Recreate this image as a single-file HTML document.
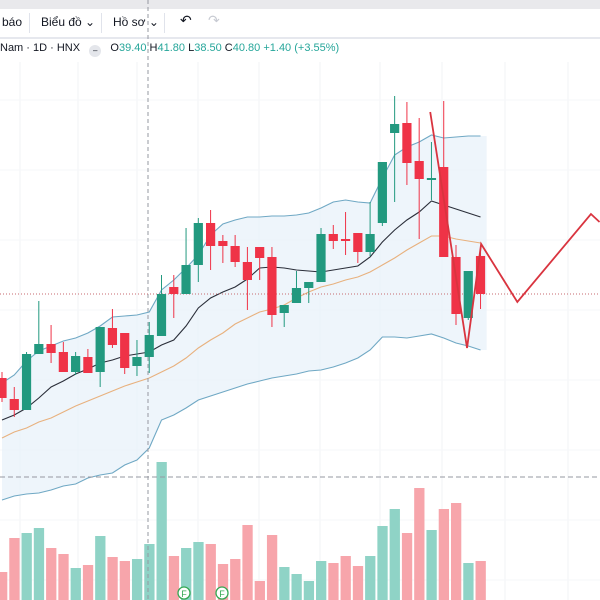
<!DOCTYPE html>
<html><head><meta charset="utf-8">
<style>
body{margin:0;width:600px;height:600px;overflow:hidden;background:#fff;font-family:"Liberation Sans","Noto Sans CJK SC",sans-serif;}
#topbar{position:absolute;left:0;top:0;width:600px;height:9px;background:#e9e9ec;}
#toolbar{position:absolute;left:0;top:9px;width:600px;height:28px;background:#fff;border-bottom:2px solid #e6e8ee;font-size:12px;color:#131722;}
#toolbar span{position:absolute;top:6px;}
.sep{position:absolute;top:4px;width:1px;height:20px;background:#e0e3eb;}
#legend{position:absolute;left:0;top:42px;font-size:11px;color:#131722;white-space:nowrap;}
#legend .g{color:#26a69a;}
svg{position:absolute;left:0;top:0;}
</style></head><body>
<div id="topbar"></div>
<div id="toolbar">
<span style="left:2px">báo</span>
<div class="sep" style="left:29px"></div>
<span style="left:41px">Biểu đồ ⌄</span>
<div class="sep" style="left:101px"></div>
<span style="left:113px">Hồ sơ ⌄</span>
<div class="sep" style="left:164px"></div>
<span style="left:180px;font-size:14px;top:3px">↶</span>
<span style="left:208px;font-size:14px;top:3px;color:#c8cbd3">↷</span>
</div>
<svg id="chart" width="600" height="600"></svg>
<div id="legend">Nam · 1D · HNX &nbsp;&nbsp;<span style="display:inline-block;width:12px;height:12px;border-radius:6px;background:#e4e6eb;vertical-align:-2px;font-size:8px;text-align:center;line-height:12px">–</span>&nbsp;&nbsp; O<span class="g">39.40</span> H<span class="g">41.80</span> L<span class="g">38.50</span> C<span class="g">40.80</span> <span class="g">+1.40 (+3.55%)</span></div>
<script>
const opens=[22.2,20.1,19.0,24.6,25.6,24.8,22.8,24.3,22.8,27.2,26.7,23.4,24.3,26.4,31.3,30.6,33.5,37.7,35.9,35.4,33.8,35.3,34.3,28.7,29.7,31.2,31.8,36.6,36.1,36.7,34.8,37.7,46.7,47.7,43.9,42.0,43.3,34.3,28.2,34.4];
const highs=[22.8,21.3,24.8,29.9,27.5,25.8,24.8,25.1,27.3,29.1,26.7,26.0,27.8,32.5,32.5,37.2,38.2,39.0,36.5,36.5,35.3,35.3,35.3,29.5,32.9,31.8,37.2,37.5,38.8,36.7,39.8,43.8,50.4,49.8,48.2,45.8,49.9,35.5,32.9,35.4];
const lows=[19.8,18.3,19.0,24.6,23.7,22.8,22.5,22.7,21.3,25.2,22.6,22.4,22.7,26.4,28.2,30.6,31.8,33.0,33.7,33.3,29.0,32.0,27.3,27.3,29.7,29.7,31.8,35.1,34.5,33.7,34.4,37.4,39.8,41.5,36.1,40.0,34.3,27.5,28.0,29.1];
const closes=[20.2,19.0,24.6,25.6,24.7,22.8,24.4,22.7,27.3,25.5,23.2,24.3,26.5,30.6,30.6,33.5,37.7,35.4,35.4,33.8,32.0,34.2,28.5,29.5,31.2,31.8,36.6,35.9,35.9,34.8,36.6,43.8,47.6,43.7,42.1,42.2,34.3,28.6,32.9,30.6];
const volumes=[28,62,67,72,52,46,32,35,64,43,39,41,56,138,44,52,58,56,36,41,75,19,65,33,26,19,39,37,44,34,44,74,91,67,112,70,91,97,37,39];
const bbUpper=[21.7,22.5,23.9,24.9,25.4,25.9,26.2,26.7,27.4,28.3,28.4,28.5,28.8,31.0,32.0,33.2,34.5,36.5,37.6,38.0,38.3,38.3,38.4,38.4,38.5,38.7,39.2,39.8,40.0,39.8,39.7,42.2,44.5,45.3,45.8,46.5,46.2,46.3,46.4,46.4];
const bbMid=[18.0,18.5,19.2,20.2,21.3,21.9,22.6,23.1,23.7,24.0,24.4,24.6,24.8,25.5,26.0,27.4,29.2,30.2,30.8,31.3,32.1,33.2,33.3,33.2,33.0,32.9,32.8,33.0,33.2,33.4,34.3,35.8,37.0,38.0,38.8,39.9,39.5,39.1,38.7,38.3];
const bbLower=[10.0,10.4,10.6,10.7,11.0,11.4,11.6,12.2,12.5,12.7,13.5,14.0,15.2,18.0,18.5,19.2,20.0,20.4,20.8,21.2,21.6,21.9,22.2,22.4,22.6,22.9,23.0,23.3,23.7,24.2,25.0,26.3,26.3,26.2,26.4,26.6,26.2,25.7,25.4,25.0];
const maSlow=[16.2,16.8,17.2,17.8,18.2,18.8,19.4,19.9,20.4,20.9,21.4,21.8,22.2,22.8,23.4,24.2,25.2,26.0,26.7,27.6,28.2,28.8,29.1,29.5,30.2,30.8,31.3,31.6,32.0,32.3,32.8,33.5,34.2,35.0,35.7,36.4,36.4,36.1,35.9,35.7];
// projection drawing: [bar index position, price]
const drawIdx=[34.9,37.9,39.05,42,48,48.7];
const drawPrice=[48.8,25.2,35.6,29.8,38.6,37.8];

const svg=document.getElementById('chart');
const NS='http://www.w3.org/2000/svg';
const X=i=>2+12.27*i;
const Y=p=>600-p*10;
const VY=v=>600-v;
function el(t,a,parent){const e=document.createElementNS(NS,t);for(const k in a)e.setAttribute(k,a[k]);(parent||svg).appendChild(e);return e;}

// grid
const grid=el('g',{});


[20,78,137,198,259,320,380,442,505,568].forEach(x=>el('line',{x1:x,x2:x,y1:62,y2:600,stroke:'#f2f3f6','stroke-width':1},grid));
[100,170,240,310,380,450,520,580].forEach(y=>el('line',{x1:0,x2:600,y1:y,y2:y,stroke:'#f6f7f9','stroke-width':1},grid));

// band fill
let up=bbUpper.map((v,i)=>X(i)+','+Y(v)).join(' ');
let lo=bbLower.map((v,i)=>X(i)+','+Y(v)).reverse().join(' ');
const fill=el('polygon',{points:up+' '+X(39.5)+','+Y(bbUpper[39])+' '+X(39.5)+','+Y(bbLower[39])+' '+lo,fill:'#e8f1fa','fill-opacity':0.75});



// volume
volumes.forEach((v,i)=>{const b=el('rect',{x:X(i)-5,y:VY(v),width:10.3,height:v,fill:closes[i]>=opens[i]?'#8fd3c6':'#f7a5ab'});

});

// lines
function line(arr,color,name){const p=el('polyline',{points:arr.map((v,i)=>X(i)+','+Y(v)).join(' '),fill:'none',stroke:color,'stroke-width':1.1});

}
line(bbUpper,'#6fa8c4','bollinger-upper');
line(bbLower,'#6fa8c4','bollinger-lower');
line(maSlow,'#e8b17e','moving-average-slow');
line(bbMid,'#2a2e39','bollinger-middle');

// crosshair & price lines
const ch=el('line',{x1:148,x2:148,y1:0,y2:600,stroke:'#9598a1','stroke-dasharray':'4,3','stroke-width':1});


const hl=el('line',{x1:0,x2:600,y1:477,y2:477,stroke:'#9598a1','stroke-dasharray':'5,3','stroke-width':1});


const pl=el('line',{x1:0,x2:600,y1:Y(closes[39]),y2:Y(closes[39]),stroke:'#c76a6f','stroke-dasharray':'1,2','stroke-width':1});



// candles
opens.forEach((o,i)=>{const c=closes[i],col=c>=o?'#22997f':'#ef3347';
const g=el('g',{});


el('line',{x1:X(i),x2:X(i),y1:Y(highs[i]),y2:Y(lows[i]),stroke:col,'stroke-width':1},g);
const top=Y(Math.max(o,c)),h=Math.max(1.5,Math.abs(Y(o)-Y(c)));
el('rect',{x:X(i)-4.6,y:top,width:9.2,height:h,fill:col},g);});

// drawing
const dr=el('polyline',{points:drawIdx.map((v,i)=>X(v)+','+Y(drawPrice[i])).join(' '),fill:'none',stroke:'#d9343f','stroke-width':1.8});



// F markers
[184,222].forEach(x=>{const g=el('g',{});


el('circle',{cx:x,cy:593,r:6,fill:'#fff',stroke:'#34a853','stroke-width':1.3},g);
const t=el('text',{x:x,y:597,'font-size':9,'text-anchor':'middle',fill:'#34a853','font-family':'Liberation Sans, sans-serif'},g);t.textContent='F';});
</script>
</body></html>
